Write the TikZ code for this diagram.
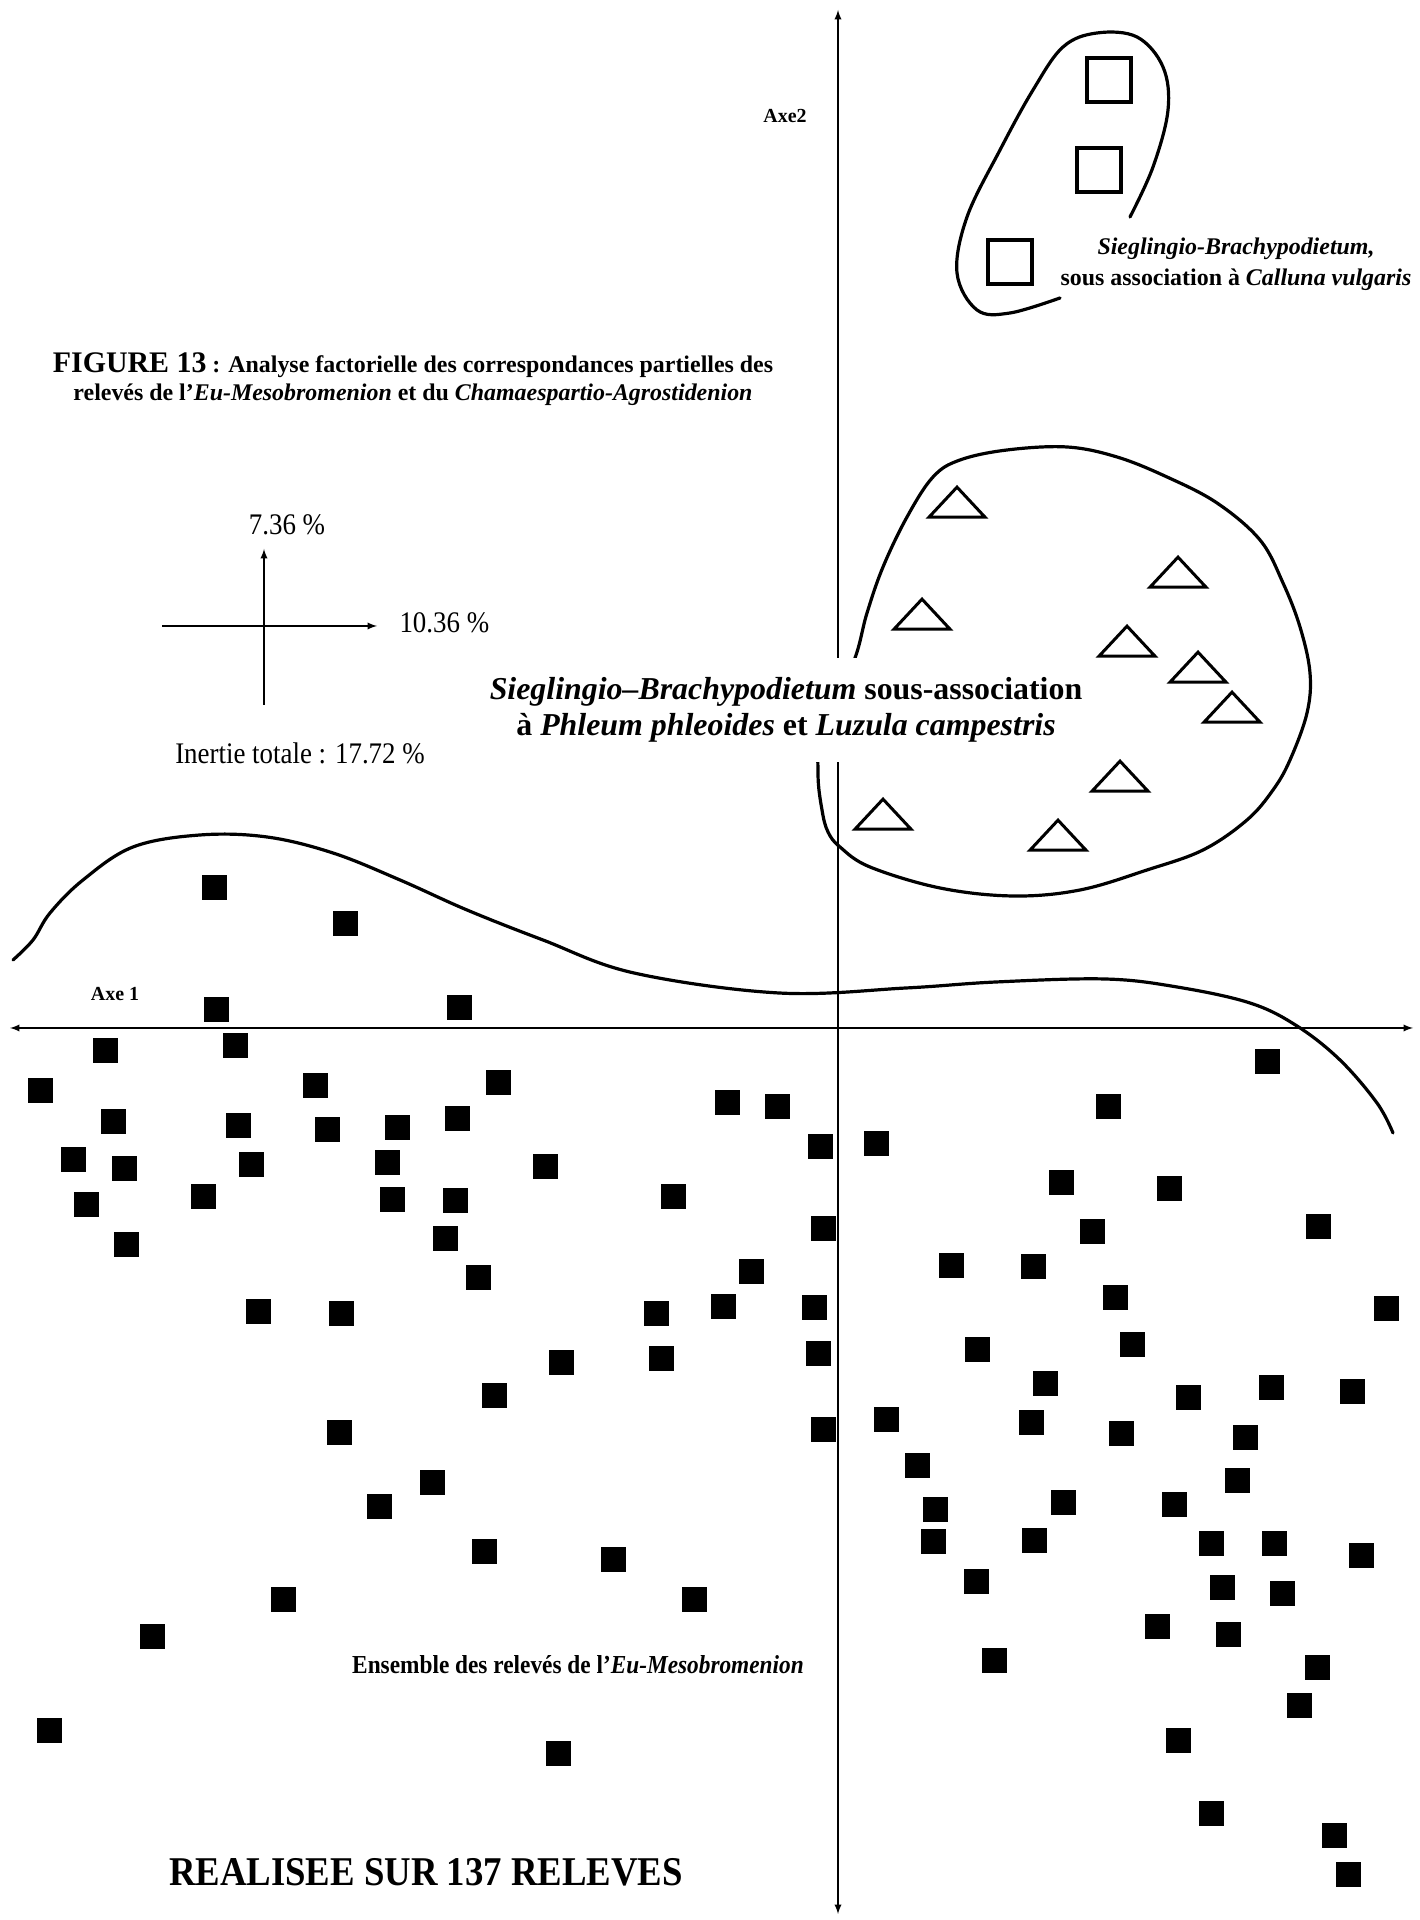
\documentclass[tikz,border=0pt]{standalone}
\usepackage{fontspec}
\setmainfont{Liberation Serif}
\newfontfamily\narrowfont[FakeStretch=0.9]{Liberation Serif}
\usetikzlibrary{shapes.geometric}

\begin{document}
\begin{tikzpicture}[>=latex,line join=bevel,
    releve/.style={fill=black,rectangle,minimum size=25bp,inner sep=0pt},
    calluna/.style={draw,rectangle,minimum size=44bp,inner sep=0pt,line width=4bp,line join=miter},
    phleum/.style={draw,isosceles triangle,isosceles triangle stretches,shape border rotate=90,
      minimum width=56bp,minimum height=30bp,inner sep=0pt,line width=3bp,line join=miter},
    axis/.style={line width=2.2bp},
    contour/.style={line width=3.2bp,line join=round,line cap=round},
    ]
    %%
    \useasboundingbox [fill=white] (0bp,0bp) rectangle (1420bp,1920bp);
    %% axes
    \coordinate (xleft) at (10.0bp,892.0bp);
    \coordinate (xright) at (1413.0bp,892.0bp);
    \coordinate (ybot) at (838.0bp,6.0bp);
    \coordinate (ytop) at (838.0bp,1910.0bp);
    \draw [axis,<->] (xleft) -- (xright);
    \draw [axis,<->] (ybot) -- (ytop);
    \node (axe1) at (115.0bp,926.0bp) [font=\bfseries\fontsize{20}{24}\selectfont] {Axe 1};
    \node (axe2) at (785.0bp,1804.0bp) [font=\bfseries\fontsize{20}{24}\selectfont] {Axe2};
    %% title
    \node (titre) at (413.0bp,1541.0bp) [align=center,font=\bfseries\fontsize{24}{28}\selectfont]
      {{\fontsize{30}{28}\selectfont FIGURE 13} : Analyse factorielle des correspondances partielles des\\
       relevés de l’\textit{Eu-Mesobromenion} et du \textit{Chamaespartio-Agrostidenion}};
    %% inertia cross
    \coordinate (lx0) at (162.0bp,1294.0bp);
    \coordinate (lx1) at (377.0bp,1294.0bp);
    \coordinate (ly0) at (264.0bp,1215.0bp);
    \coordinate (ly1) at (264.0bp,1371.0bp);
    \draw [axis,->] (lx0) -- (lx1);
    \draw [axis,->] (ly0) -- (ly1);
    \node (pc2) at (287.0bp,1395.0bp) [font=\narrowfont\fontsize{30}{32}\selectfont] {7.36 \%};
    \node (pc1) at (396.0bp,1297.0bp) [anchor=west,font=\narrowfont\fontsize{30}{32}\selectfont] {10.36 \%};
    \node (inertie) at (300.0bp,1167.0bp) [font=\narrowfont\fontsize{30}{32}\selectfont] {Inertie totale : 17.72 \%};
    %% groups
    \draw [contour] plot [smooth,tension=0.6] coordinates {(1130bp,1703bp) (1153bp,1753bp) (1168bp,1810bp)
      (1163bp,1853bp) (1137bp,1883bp) (1097bp,1887bp) (1063bp,1873bp) (1033bp,1830bp) (1000bp,1770bp)
      (967bp,1703bp) (957bp,1647bp) (977bp,1610bp) (1010bp,1607bp) (1060bp,1622bp)};
    \draw [contour] plot [smooth cycle,tension=0.6] coordinates {(853bp,1257bp) (867bp,1307bp) (883bp,1353bp)
      (907bp,1403bp) (933bp,1443bp) (960bp,1460bp) (1007bp,1470bp) (1067bp,1473bp) (1117bp,1463bp)
      (1167bp,1443bp) (1217bp,1417bp) (1260bp,1380bp) (1283bp,1337bp) (1300bp,1293bp) (1310bp,1247bp)
      (1307bp,1207bp) (1290bp,1160bp) (1273bp,1130bp) (1247bp,1100bp) (1203bp,1070bp) (1147bp,1050bp)
      (1080bp,1030bp) (1013bp,1024bp) (940bp,1032bp) (870bp,1053bp) (840bp,1073bp) (828bp,1088bp)
      (822bp,1110bp) (818bp,1147bp) (822bp,1200bp)};
    \draw [contour] plot [smooth,tension=0.6] coordinates {(13bp,960bp) (33bp,980bp) (50bp,1007bp)
      (83bp,1040bp) (133bp,1073bp) (200bp,1085bp) (267bp,1083bp) (333bp,1067bp) (400bp,1040bp)
      (467bp,1010bp) (543bp,980bp) (634bp,947bp) (779bp,927bp) (906bp,932bp) (996bp,938bp)
      (1105bp,941bp) (1177bp,933bp) (1250bp,917bp) (1297bp,894bp) (1340bp,860bp) (1377bp,817bp)
      (1393bp,787bp)};
    %% Calluna
    \node (c1) at (1109.0bp,1840.0bp) [calluna] {};
    \node (c2) at (1099.0bp,1750.0bp) [calluna] {};
    \node (c3) at (1010.0bp,1658.0bp) [calluna] {};
    \node (calluna) at (1236.0bp,1656.0bp) [align=center,font=\bfseries\fontsize{24}{31}\selectfont]
      {\textit{Sieglingio-Brachypodietum,}\\ sous association à \textit{Calluna vulgaris}};
    %% Phleum
    \node (t1) at (957.0bp,1415.0bp) [phleum] {};
    \node (t2) at (1178.0bp,1345.0bp) [phleum] {};
    \node (t3) at (922.0bp,1303.0bp) [phleum] {};
    \node (t4) at (1127.0bp,1276.0bp) [phleum] {};
    \node (t5) at (1198.0bp,1250.0bp) [phleum] {};
    \node (t6) at (1232.0bp,1210.0bp) [phleum] {};
    \node (t7) at (1120.0bp,1141.0bp) [phleum] {};
    \node (t8) at (883.0bp,1103.0bp) [phleum] {};
    \node (t9) at (1058.0bp,1082.0bp) [phleum] {};
    \node (phleum) at (786.0bp,1210.0bp) [fill=white,inner xsep=4bp,inner ysep=20bp,align=center,
      font=\bfseries\fontsize{32}{36}\selectfont]
      {\textit{Sieglingio--Brachypodietum} sous-association\\ à \textit{Phleum phleoides} et \textit{Luzula campestris}};
    %% Eu-Mesobromenion
    \node (r1) at (214.0bp,1032.0bp) [releve] {};
    \node (r2) at (345.0bp,996.0bp) [releve] {};
    \node (r3) at (216.0bp,910.0bp) [releve] {};
    \node (r4) at (459.0bp,912.0bp) [releve] {};
    \node (r5) at (105.0bp,869.0bp) [releve] {};
    \node (r6) at (235.0bp,874.0bp) [releve] {};
    \node (r7) at (40.0bp,829.0bp) [releve] {};
    \node (r8) at (315.0bp,834.0bp) [releve] {};
    \node (r9) at (498.0bp,837.0bp) [releve] {};
    \node (r10) at (113.0bp,798.0bp) [releve] {};
    \node (r11) at (238.0bp,794.0bp) [releve] {};
    \node (r12) at (327.0bp,790.0bp) [releve] {};
    \node (r13) at (397.0bp,792.0bp) [releve] {};
    \node (r14) at (457.0bp,801.0bp) [releve] {};
    \node (r15) at (73.0bp,760.0bp) [releve] {};
    \node (r16) at (124.0bp,751.0bp) [releve] {};
    \node (r17) at (251.0bp,755.0bp) [releve] {};
    \node (r18) at (387.0bp,757.0bp) [releve] {};
    \node (r19) at (86.0bp,715.0bp) [releve] {};
    \node (r20) at (203.0bp,723.0bp) [releve] {};
    \node (r21) at (392.0bp,720.0bp) [releve] {};
    \node (r22) at (455.0bp,719.0bp) [releve] {};
    \node (r23) at (126.0bp,675.0bp) [releve] {};
    \node (r24) at (445.0bp,681.0bp) [releve] {};
    \node (r25) at (478.0bp,642.0bp) [releve] {};
    \node (r26) at (258.0bp,608.0bp) [releve] {};
    \node (r27) at (341.0bp,606.0bp) [releve] {};
    \node (r28) at (494.0bp,524.0bp) [releve] {};
    \node (r29) at (339.0bp,487.0bp) [releve] {};
    \node (r30) at (432.0bp,437.0bp) [releve] {};
    \node (r31) at (379.0bp,413.0bp) [releve] {};
    \node (r32) at (727.0bp,817.0bp) [releve] {};
    \node (r33) at (777.0bp,813.0bp) [releve] {};
    \node (r34) at (820.0bp,773.0bp) [releve] {};
    \node (r35) at (545.0bp,753.0bp) [releve] {};
    \node (r36) at (673.0bp,723.0bp) [releve] {};
    \node (r37) at (823.0bp,691.0bp) [releve] {};
    \node (r38) at (751.0bp,648.0bp) [releve] {};
    \node (r39) at (656.0bp,606.0bp) [releve] {};
    \node (r40) at (723.0bp,613.0bp) [releve] {};
    \node (r41) at (814.0bp,612.0bp) [releve] {};
    \node (r42) at (561.0bp,557.0bp) [releve] {};
    \node (r43) at (661.0bp,561.0bp) [releve] {};
    \node (r44) at (818.0bp,566.0bp) [releve] {};
    \node (r45) at (823.0bp,490.0bp) [releve] {};
    \node (r46) at (484.0bp,368.0bp) [releve] {};
    \node (r47) at (613.0bp,360.0bp) [releve] {};
    \node (r48) at (283.0bp,320.0bp) [releve] {};
    \node (r49) at (694.0bp,320.0bp) [releve] {};
    \node (r50) at (152.0bp,283.0bp) [releve] {};
    \node (r51) at (49.0bp,189.0bp) [releve] {};
    \node (r52) at (558.0bp,166.0bp) [releve] {};
    \node (r53) at (1267.0bp,858.0bp) [releve] {};
    \node (r54) at (1108.0bp,813.0bp) [releve] {};
    \node (r55) at (1061.0bp,737.0bp) [releve] {};
    \node (r56) at (1169.0bp,731.0bp) [releve] {};
    \node (r57) at (1092.0bp,688.0bp) [releve] {};
    \node (r58) at (1318.0bp,693.0bp) [releve] {};
    \node (r59) at (951.0bp,654.0bp) [releve] {};
    \node (r60) at (1033.0bp,653.0bp) [releve] {};
    \node (r61) at (1115.0bp,622.0bp) [releve] {};
    \node (r62) at (1386.0bp,611.0bp) [releve] {};
    \node (r63) at (977.0bp,570.0bp) [releve] {};
    \node (r64) at (1132.0bp,575.0bp) [releve] {};
    \node (r65) at (1045.0bp,536.0bp) [releve] {};
    \node (r66) at (1271.0bp,532.0bp) [releve] {};
    \node (r67) at (1352.0bp,528.0bp) [releve] {};
    \node (r68) at (1188.0bp,522.0bp) [releve] {};
    \node (r69) at (1031.0bp,497.0bp) [releve] {};
    \node (r70) at (1121.0bp,486.0bp) [releve] {};
    \node (r71) at (1245.0bp,482.0bp) [releve] {};
    \node (r72) at (1237.0bp,439.0bp) [releve] {};
    \node (r73) at (1063.0bp,417.0bp) [releve] {};
    \node (r74) at (1174.0bp,415.0bp) [releve] {};
    \node (r75) at (876.0bp,776.0bp) [releve] {};
    \node (r76) at (886.0bp,500.0bp) [releve] {};
    \node (r77) at (917.0bp,454.0bp) [releve] {};
    \node (r78) at (935.0bp,410.0bp) [releve] {};
    \node (r79) at (933.0bp,378.0bp) [releve] {};
    \node (r80) at (1034.0bp,379.0bp) [releve] {};
    \node (r81) at (1211.0bp,376.0bp) [releve] {};
    \node (r82) at (1274.0bp,376.0bp) [releve] {};
    \node (r83) at (1361.0bp,364.0bp) [releve] {};
    \node (r84) at (976.0bp,338.0bp) [releve] {};
    \node (r85) at (1222.0bp,332.0bp) [releve] {};
    \node (r86) at (1282.0bp,326.0bp) [releve] {};
    \node (r87) at (1157.0bp,293.0bp) [releve] {};
    \node (r88) at (1228.0bp,285.0bp) [releve] {};
    \node (r89) at (994.0bp,259.0bp) [releve] {};
    \node (r90) at (1317.0bp,252.0bp) [releve] {};
    \node (r91) at (1299.0bp,214.0bp) [releve] {};
    \node (r92) at (1178.0bp,179.0bp) [releve] {};
    \node (r93) at (1211.0bp,106.0bp) [releve] {};
    \node (r94) at (1334.0bp,84.0bp) [releve] {};
    \node (r95) at (1348.0bp,45.0bp) [releve] {};
    \node (ensemble) at (578.0bp,255.0bp) [font=\narrowfont\bfseries\fontsize{26}{28}\selectfont]
      {Ensemble des relevés de l’\textit{Eu-Mesobromenion}};
    \node (total) at (426.0bp,48.0bp) [font=\narrowfont\bfseries\fontsize{41}{44}\selectfont] {REALISEE SUR 137 RELEVES};
    %
\end{tikzpicture}
\end{document}
